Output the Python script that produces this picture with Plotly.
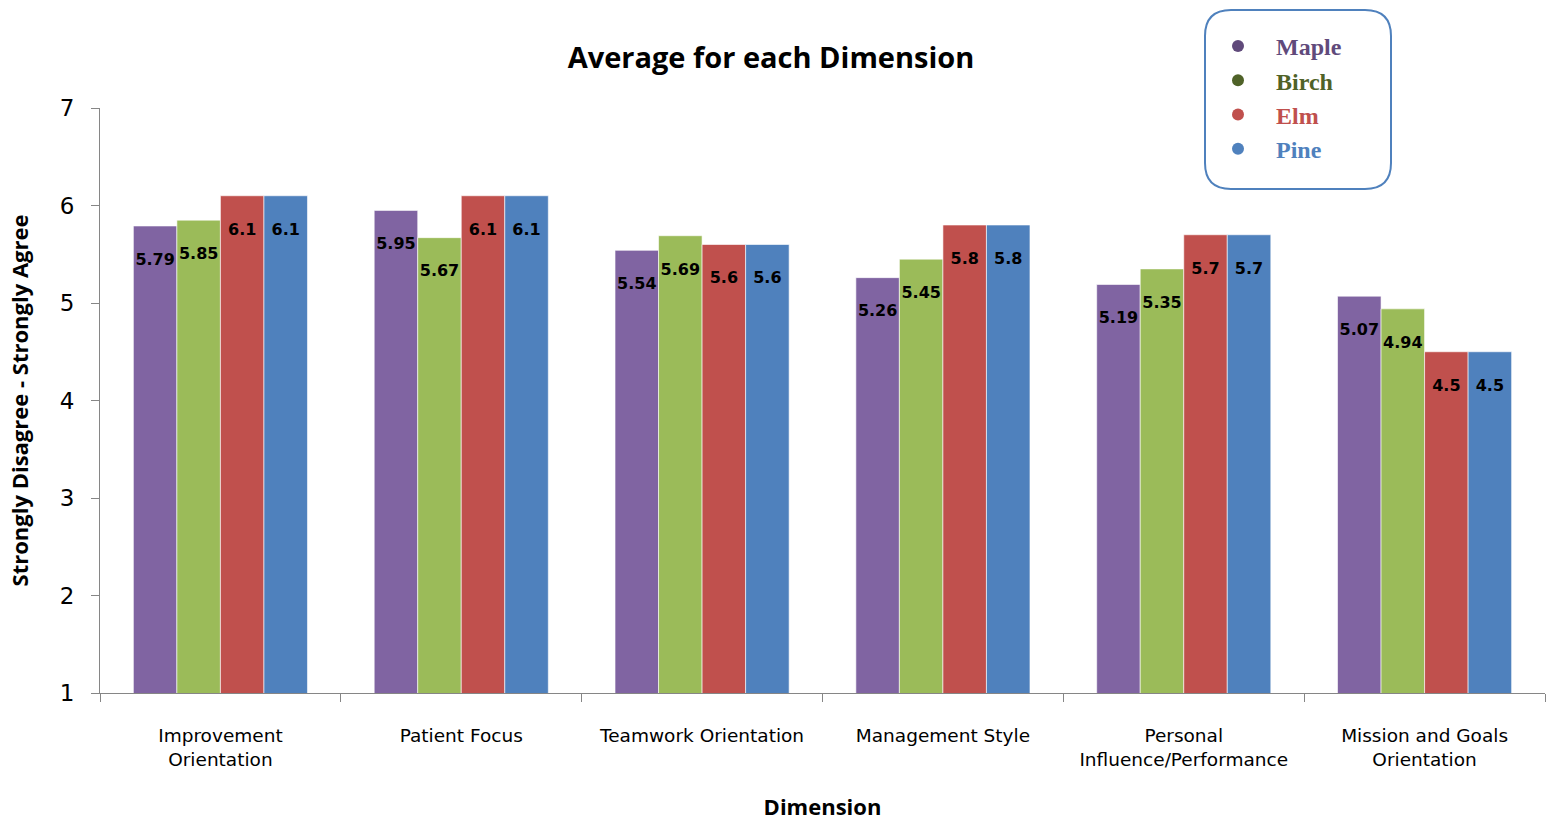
import plotly.graph_objects as go

categories = ["Improvement<br>Orientation", "Patient Focus", "Teamwork Orientation",
              "Management Style", "Personal<br>Influence/Performance", "Mission and Goals<br>Orientation"]
series_names = ["Maple", "Birch", "Elm", "Pine"]
maple = [5.79, 5.95, 5.54, 5.26, 5.19, 5.07]
birch = [5.85, 5.67, 5.69, 5.45, 5.35, 4.94]
elm = [6.1, 6.1, 5.6, 5.8, 5.7, 4.5]
pine = [6.1, 6.1, 5.6, 5.8, 5.7, 4.5]
y_ticks = [1, 2, 3, 4, 5, 6, 7]

bar_colors = ["#8064A2", "#9BBB59", "#C0504D", "#4F81BD"]
legend_dot_colors = ["#604A7B", "#4F6228", "#C0504D", "#4F81BD"]
legend_text_colors = ["#604A7B", "#4F6228", "#C0504D", "#4F81BD"]

W, H = 1554, 821
ML, MR, MT, MB = 100, 9, 108, 128
PW, PH = W - ML - MR, H - MT - MB

fig = go.Figure()
for name, vals, col in zip(series_names, [maple, birch, elm, pine], bar_colors):
    fig.add_trace(go.Bar(
        x=categories, y=vals, name=name, marker_color=col,
        marker_line_width=0.6, marker_line_color="white",
        text=[" <br>" + str(v) for v in vals],
        textposition="inside", insidetextanchor="end", textangle=0,
        constraintext="none", cliponaxis=False,
        textfont=dict(family="DejaVu Sans", size=16, color="black", weight="bold"),
        showlegend=False,
    ))

for name, dc, tc in zip(series_names, legend_dot_colors, legend_text_colors):
    fig.add_trace(go.Scatter(
        x=[None], y=[None], mode="markers",
        name=f"&nbsp;&nbsp;&nbsp;<span style='color:{tc}'><b>{name}</b></span>",
        marker=dict(color=dc, size=11, symbol="circle"),
        showlegend=True,
    ))

# rounded legend box
bw, bh, r = 186, 179, 26
hx, hy = bw / 2, bh / 2
path = (f"M {-hx + r},{-hy} L {hx - r},{-hy} Q {hx},{-hy} {hx},{-hy + r} "
        f"L {hx},{hy - r} Q {hx},{hy} {hx - r},{hy} L {-hx + r},{hy} "
        f"Q {-hx},{hy} {-hx},{hy - r} L {-hx},{-hy + r} Q {-hx},{-hy} {-hx + r},{-hy} Z")
cx, cy = 1298, 99.5
fig.add_shape(type="path", xref="paper", yref="paper", xsizemode="pixel", ysizemode="pixel",
              xanchor=(cx - ML) / PW, yanchor=(H - MB - cy) / PH, path=path,
              line=dict(color="#4F81BD", width=2), fillcolor="rgba(0,0,0,0)", layer="above")

fig.update_layout(
    width=W, height=H,
    margin=dict(l=ML, r=MR, t=MT, b=MB, autoexpand=False),
    paper_bgcolor="white", plot_bgcolor="white",
    barmode="group", bargap=0.277, bargroupgap=0,
    font=dict(family="DejaVu Sans", color="black"),
    title=dict(text="<b>Average for each Dimension</b>", x=(771) / W, xanchor="center",
               y=1 - 58 / H, yanchor="middle",
               font=dict(family="Open Sans", size=29, color="black")),
    xaxis=dict(
        automargin=False,
        showline=True, linecolor="#868686", linewidth=1.2,
        ticks="outside", tickson="boundaries", ticklen=8, tickcolor="#868686",
        ticklabelstandoff=26,
        tickfont=dict(family="DejaVu Sans", size=18.5, color="black"),
        title=dict(text="<b>Dimension</b>", font=dict(family="Open Sans", size=22, color="black"),
                   standoff=32),
        showgrid=False,
    ),
    yaxis=dict(
        automargin=False,
        range=[1, 7], tickvals=y_ticks, showline=True, linecolor="#868686", linewidth=1.2,
        ticks="outside", ticklen=8, tickcolor="#868686", ticklabelstandoff=12,
        tickfont=dict(family="DejaVu Sans", size=23, color="black"),
        title=dict(text="<b>Strongly Disagree - Strongly Agree</b>",
                   font=dict(family="Open Sans", size=22, color="black"), standoff=24),
        showgrid=False, zeroline=False,
    ),
    legend=dict(x=(1218 - ML) / PW, y=(H - MB - 24) / PH, xanchor="left", yanchor="top",
                bgcolor="rgba(0,0,0,0)", borderwidth=0,
                font=dict(family="Liberation Serif", size=24), tracegroupgap=0,
                itemsizing="constant"),
)

fig.write_html("out.html")
